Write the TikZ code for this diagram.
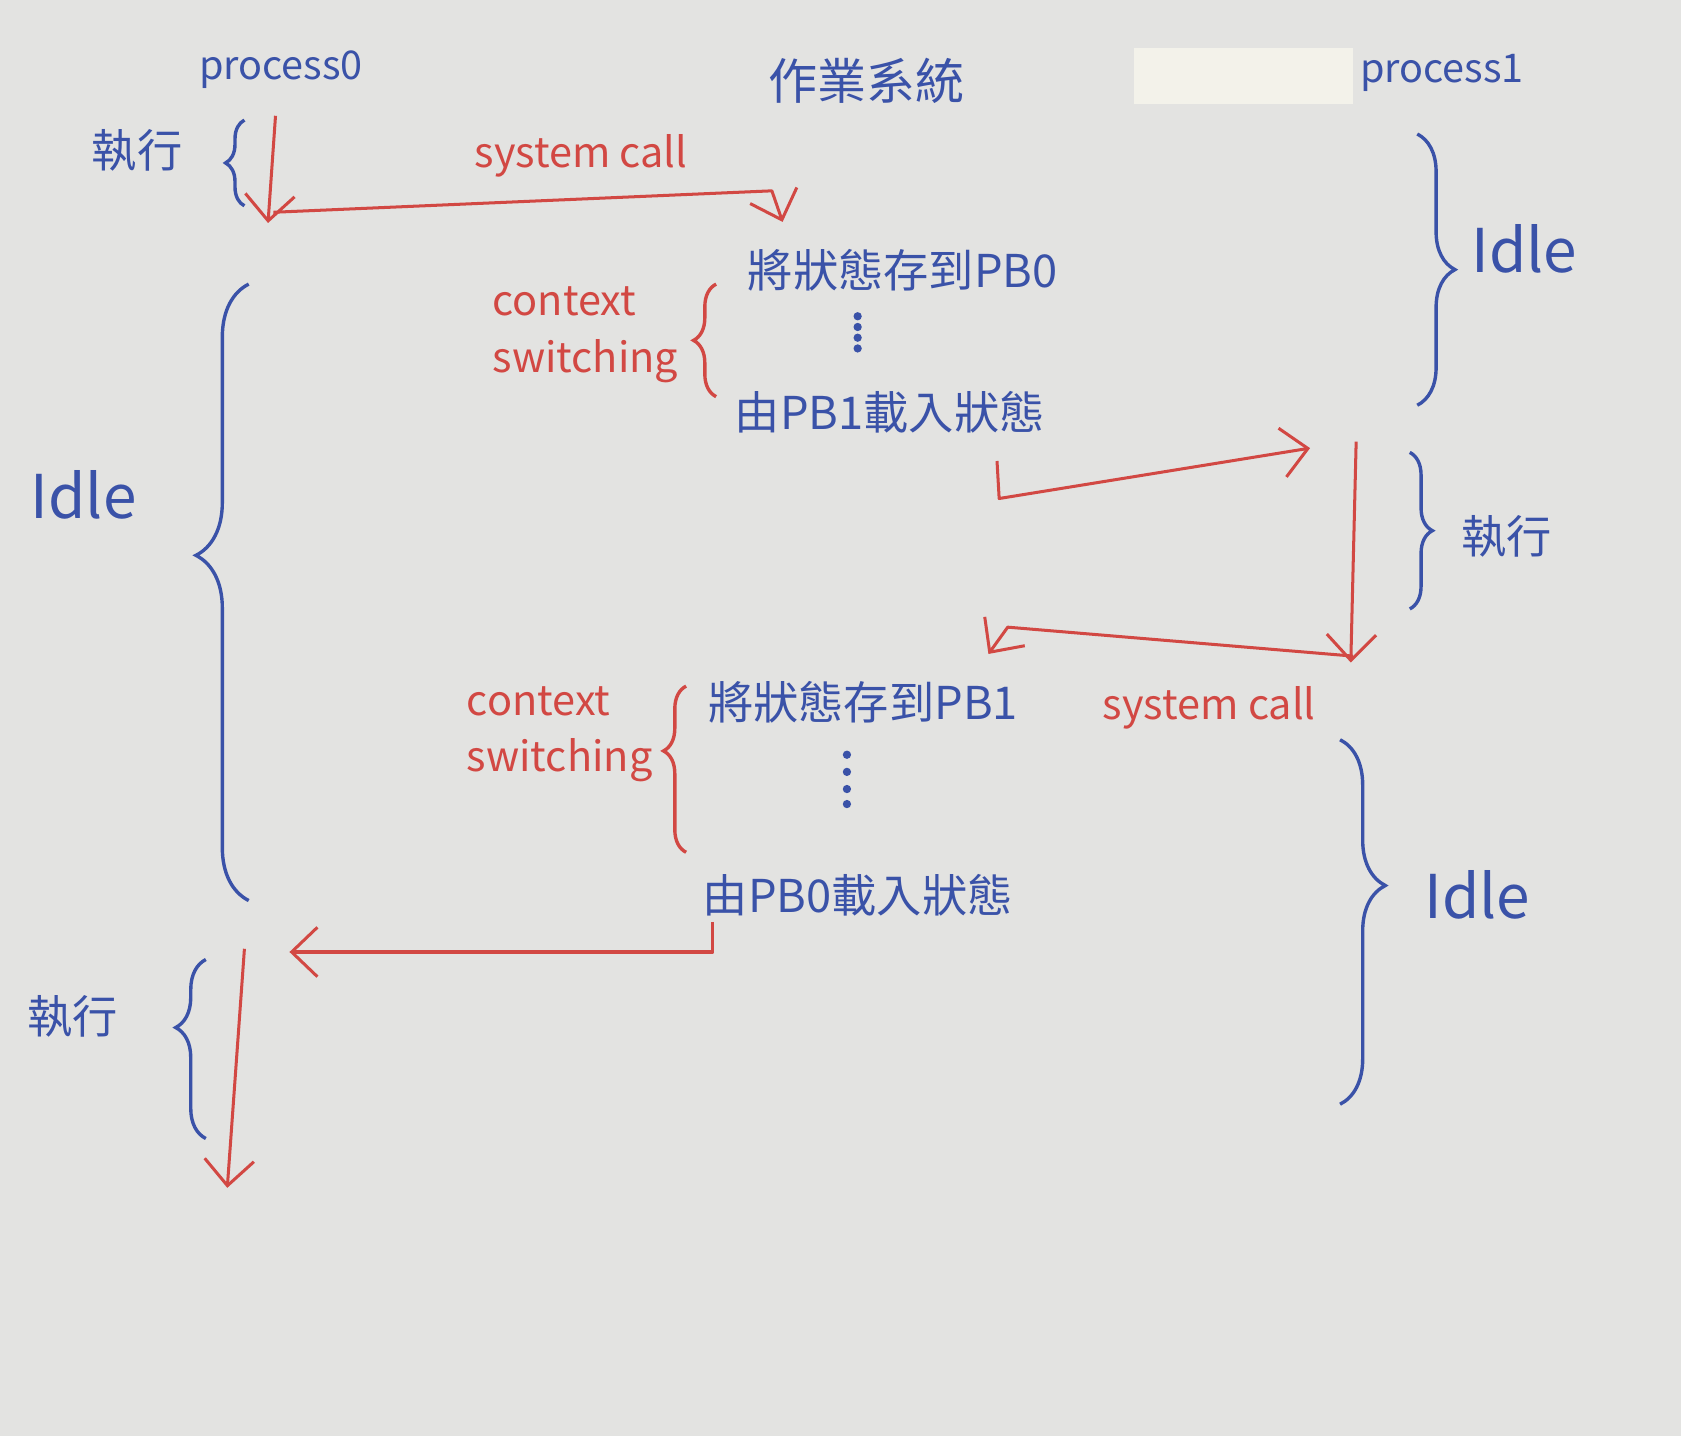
\documentclass[tikz,border=0pt]{standalone}
\usepackage{fontspec}
\setmainfont{Noto Sans CJK TC}
\usetikzlibrary{arrows.meta,decorations.pathreplacing}
\definecolor{ink}{HTML}{3A52A8}
\definecolor{redink}{HTML}{D24843}
\definecolor{paper}{HTML}{E3E3E1}
\definecolor{patch}{HTML}{F3F2EA}
\begin{document}
\begin{tikzpicture}[x=0.01cm,y=-0.01cm,
  btext/.style={text=ink,font=\fontsize{12}{14}\selectfont,inner sep=1pt},
  ptext/.style={text=ink,font=\fontsize{10.5}{12}\selectfont,inner sep=1pt},
  rtext/.style={text=redink,font=\fontsize{11}{15}\selectfont,inner sep=1pt,align=left},
  idletext/.style={text=ink,font=\fontsize{16}{18}\selectfont,inner sep=1pt},
  bbrace/.style={draw=ink,line width=0.9pt,decorate,decoration={brace,amplitude=#1}},
  rbrace/.style={draw=redink,line width=0.9pt,decorate,decoration={brace,amplitude=#1}},
  redline/.style={draw=redink,line width=0.8pt,line join=round},
  redarrow/.style={redline,-{Straight Barb[length=2.4mm,width=4.6mm,line width=0.8pt]}},
  dotmark/.style={fill=ink,circle,inner sep=0pt,minimum size=2.2pt}
]
% paper and margins
\fill[paper] (0,0) rectangle (1568,1339);
\useasboundingbox (0,0) rectangle (1568,1339);
\fill[patch] (1058,45) rectangle (1262,97);

% column headers
\node[ptext] (p0) at (262,65) {process0};
\node[btext,font=\fontsize{13}{15}\selectfont] (os) at (808,75) {作業系統};
\node[ptext] (p1) at (1345,68) {process1};

% OS texts
\node[btext] (s1) at (842,252) {將狀態存到PB0};
\node[btext] (l1) at (830,385) {由PB1載入狀態};
\node[btext] (s2) at (805,655) {將狀態存到PB1};
\node[btext] (l2) at (800,835) {由PB0載入狀態};
\foreach \yy in {295,305,315,325} \node[dotmark] at (800,\yy) {};
\foreach \yy in {704,720,736,750} \node[dotmark] at (790,\yy) {};

% red labels
\node[rtext] (sc1) at (542,145) {system call};
\node[rtext] (sc2) at (1128,660) {system call};
\node[rtext] (cs1) at (546,312) {context\\switching};
\node[rtext] (cs2) at (522,685) {context\\switching};

% blue state labels
\node[btext] (ex1) at (128,140) {執行};
\node[idletext] (idle0) at (78,462) {Idle};
\node[btext] (ex3) at (68,948) {執行};
\node[idletext] (idle1) at (1422,232) {Idle};
\node[btext] (ex2) at (1405,500) {執行};
\node[idletext] (idle2) at (1378,835) {Idle};

% braces, process0 side
\draw[bbrace=5pt] (228,192) -- (228,112);
\draw[bbrace=14pt,decoration={aspect=0.56}] (232,840) -- (232,265);
\draw[bbrace=8pt,decoration={aspect=0.62}] (192,1062) -- (192,895);
% braces, process1 side
\draw[bbrace=10pt] (1322,125) -- (1322,378);
\draw[bbrace=6pt] (1315,422) -- (1315,568);
\draw[bbrace=12pt,decoration={aspect=0.4}] (1250,690) -- (1250,1030);
% context switching braces
\draw[rbrace=6pt] (668,370) -- (668,265);
\draw[rbrace=6pt,decoration={aspect=0.61}] (640,795) -- (640,640);

% timeline arrows and transfers
\coordinate (a0) at (257,108);
\coordinate (a1) at (250,208);
\coordinate (b0) at (255,198);
\coordinate (b1) at (720,178);
\coordinate (b2) at (730,207);
\draw[redarrow] (a0) -- (a1);
\draw[redarrow] (b0) -- (b1) -- (b2);

\coordinate (c0) at (930,430);
\coordinate (c1) at (932,465);
\coordinate (c2) at (1222,418);
\draw[redarrow] (c0) -- (c1) -- (c2);

\coordinate (d0) at (1265,412);
\coordinate (d1) at (1260,618);
\draw[redarrow] (d0) -- (d1);
\coordinate (e0) at (1262,612);
\coordinate (e1) at (940,585);
\coordinate (e2) at (922,610);
\draw[redarrow] (e0) -- (e1) -- (e2);

\coordinate (f0) at (665,860);
\coordinate (f1) at (665,888);
\coordinate (f2) at (270,888);
\draw[redarrow] (f0) -- (f1) -- (f2);

\coordinate (g0) at (228,885);
\coordinate (g1) at (212,1108);
\draw[redarrow] (g0) -- (g1);
\end{tikzpicture}
\end{document}
